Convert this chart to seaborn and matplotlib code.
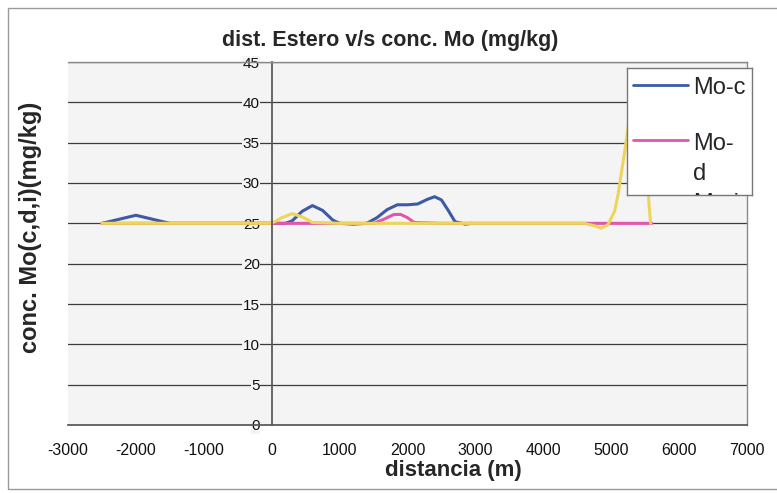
import numpy as np
import pandas as pd
import matplotlib
matplotlib.use("Agg")
import matplotlib.pyplot as plt
import seaborn as sns
from matplotlib.patches import Rectangle

# ---- data ----
moc_x = [-2500, -2300, -2000, -1700, -1500, -1000, -500, 0, 200, 300, 450, 600, 750, 900, 1000, 1200, 1400, 1550, 1700, 1850, 2000, 2150, 2300, 2400, 2500, 2600, 2700, 2850, 2950]
moc_y = [25.0, 25.4, 26.0, 25.4, 25.0, 25.0, 25.0, 25.0, 25.0, 25.3, 26.5, 27.2, 26.6, 25.4, 25.0, 24.9, 25.0, 25.7, 26.7, 27.3, 27.3, 27.4, 28.0, 28.3, 27.9, 26.6, 25.2, 24.9, 25.0]

mod_x = [-2500, -1500, -500, 0, 500, 1000, 1500, 1650, 1800, 1900, 2000, 2100, 2500, 3500, 4500, 5000, 5600]
mod_y = [25.0, 25.0, 25.0, 25.0, 25.0, 25.0, 25.0, 25.5, 26.1, 26.1, 25.7, 25.1, 25.0, 25.0, 25.0, 25.0, 25.0]

moi_x = [-2500, -1500, -500, 0, 150, 300, 450, 600, 1000, 2000, 3000, 4000, 4600, 4750, 4850, 4950, 5050, 5100, 5200, 5300, 5450, 5520, 5560, 5580]
moi_y = [25.0, 25.0, 25.0, 25.0, 25.7, 26.2, 25.8, 25.1, 25.0, 25.0, 25.0, 25.0, 25.0, 24.7, 24.4, 24.8, 26.5, 28.5, 34.0, 40.0, 41.0, 32.0, 27.0, 25.0]

series_names = ["Mo-c", "Mo-d", "Mo-i"]
series_colors = ["#3d5aa5", "#e455b0", "#eed55a"]

x_ticks = list(range(-3000, 7001, 1000))
y_ticks = list(range(0, 46, 5))

title = "dist. Estero v/s conc. Mo (mg/kg)"
xlabel = "distancia (m)"
ylabel = "conc. Mo(c,d,i)(mg/kg)"

# ---- figure ----
sns.set_theme(style="white")
plt.rcParams["font.family"] = ["Liberation Sans", "DejaVu Sans"]

W, H = 777, 493
fig = plt.figure(figsize=(W / 100, H / 100), dpi=100)
fig.patch.set_facecolor("white")

def fx(px):
    return px / W

def fy(py):
    return 1 - py / H

# outer chart border (runs off the right edge as in the scan)
fig.patches.append(Rectangle((fx(8), fy(489)), fx(W + 20) - fx(8), fy(8) - fy(489),
                             transform=fig.transFigure, fill=False,
                             edgecolor="#9a9a9a", lw=1.0))

L, R, T, B = 68, 747, 62, 425
ax = fig.add_axes([fx(L), fy(B), fx(R) - fx(L), fy(T) - fy(B)])
ax.set_facecolor("#f4f4f4")

dfs = [
    pd.DataFrame({"x": moc_x, "y": moc_y}),
    pd.DataFrame({"x": mod_x, "y": mod_y}),
    pd.DataFrame({"x": moi_x, "y": moi_y}),
]
for df, c, n in zip(dfs, series_colors, series_names):
    sns.lineplot(data=df, x="x", y="y", ax=ax, color=c, lw=2.2, sort=False,
                 label=n, legend=False)

ax.set_xlim(-3000, 7000)
ax.set_ylim(0, 45)
ax.set_xticks(x_ticks)
ax.set_yticks(y_ticks)
ax.set_xticklabels([str(v) for v in x_ticks], fontsize=11.5)
ax.set_yticklabels([str(v) for v in y_ticks], fontsize=11.5)
for yv in y_ticks[1:]:
    ax.axhline(yv, color="#3c3c3c", lw=0.9, zorder=0.5)

for s in ["top", "right"]:
    ax.spines[s].set_color("#8a8a8a")
    ax.spines[s].set_linewidth(1.0)
ax.spines["left"].set_position(("data", 0))
ax.spines["left"].set_color("#555555")
ax.spines["bottom"].set_color("#555555")
ax.tick_params(axis="both", direction="out", width=0.8,
               color="#555555", colors="#111111")
ax.tick_params(axis="x", length=4, pad=9)
ax.tick_params(axis="y", length=7, pad=1.5)
for lab in ax.get_yticklabels():
    lab.set_zorder(5)
    lab.set_bbox(dict(facecolor="#f4f4f4", edgecolor="none", pad=0.3))

ax.set_xlabel("")
ax.set_ylabel("")
fig.text(fx(453), fy(476), xlabel, ha="center", va="baseline",
         fontsize=16, fontweight="bold")
fig.text(fx(31), fy(227), ylabel, rotation=90, ha="center", va="center",
         fontsize=17, fontweight="bold")
fig.text(fx(390), fy(46), title, ha="center", va="baseline",
         fontsize=15.5, fontweight="bold")

# ---- legend box (clipped, as in the reference) ----
lx0, ly0, lx1, ly1 = 627, 68, 752, 195
lax = fig.add_axes([fx(lx0), fy(ly1), fx(lx1) - fx(lx0), fy(ly0) - fy(ly1)])
lax.set_xlim(0, lx1 - lx0)
lax.set_ylim(ly1 - ly0, 0)
lax.set_facecolor("white")
lax.set_xticks([])
lax.set_yticks([])
for s in lax.spines.values():
    s.set_color("#777777")
    s.set_linewidth(1.0)
lax.plot([6, 61], [17, 17], color=series_colors[0], lw=2.0)
lax.plot([6, 61], [72, 72], color=series_colors[1], lw=2.0)
legend_texts = [("Mo-c", 26), ("Mo-", 82), ("d", 112), ("Mo-i", 142)]
for txt, yb in legend_texts:
    lax.text(66, yb, txt, fontsize=17, va="baseline", ha="left", clip_on=True)

fig.savefig("out.png", dpi=100)
